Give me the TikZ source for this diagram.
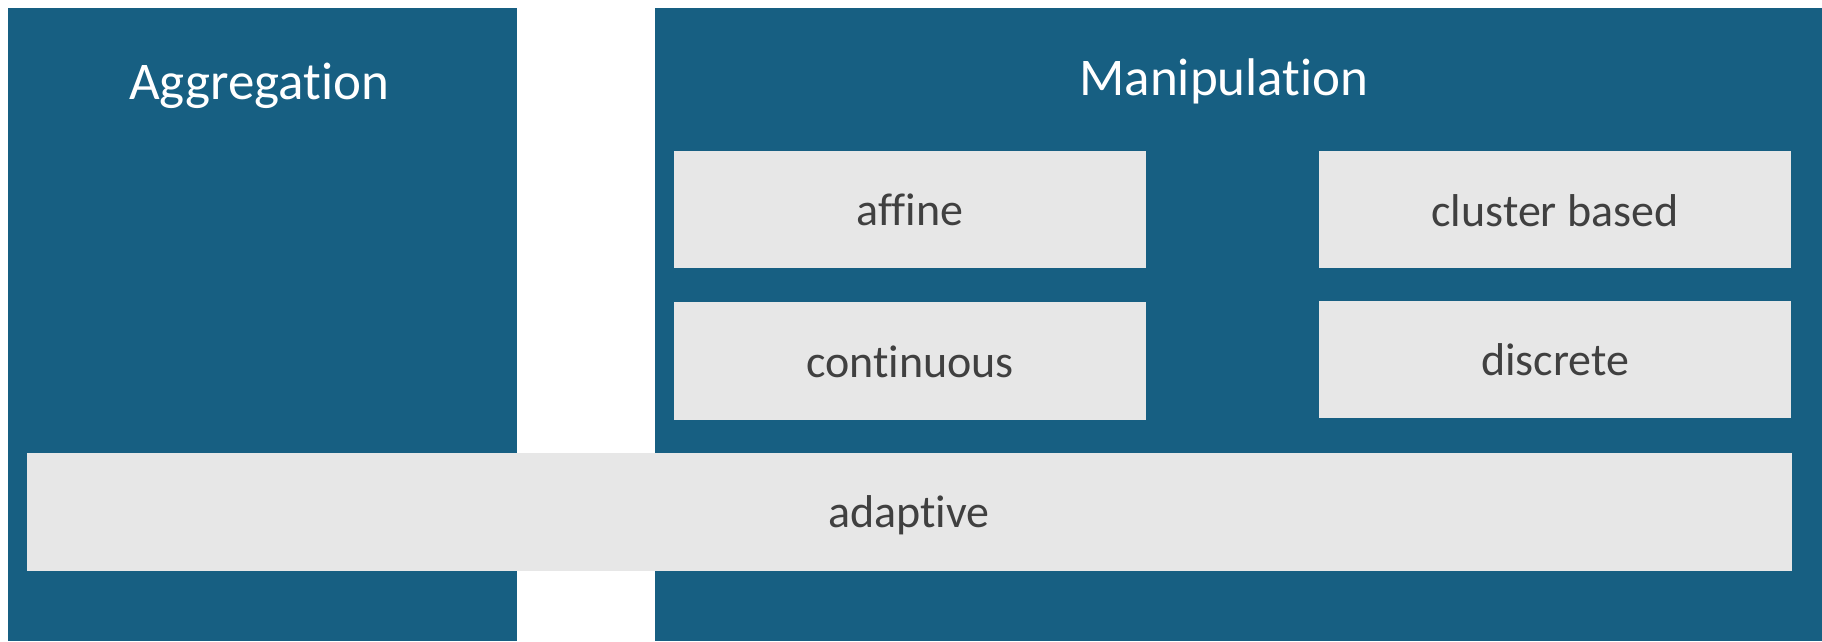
\documentclass[tikz,border=0pt]{standalone}
\usepackage{fontspec}
\setmainfont[Ligatures={NoCommon,NoRare,NoDiscretionary}]{Carlito}
\definecolor{panelblue}{HTML}{175F82}
\definecolor{itemgray}{HTML}{E7E7E7}
\definecolor{itemtext}{HTML}{404040}
\begin{document}
\begin{tikzpicture}[x=1pt,y=-1pt,
  panel/.style={fill=panelblue,draw=none},
  item/.style={fill=itemgray,draw=none},
  titletext/.style={anchor=base,inner sep=0pt,text=white,font=\fontsize{53}{64}\selectfont},
  itemlabel/.style={anchor=base,inner sep=0pt,text=itemtext,font=\fontsize{46}{55}\selectfont}]
\useasboundingbox (0,0) rectangle (1822,641);
\fill[white] (0,0) rectangle (1822,641);
% panels
\path[panel] (8,8) rectangle (517,641);
\path[panel] (655,8) rectangle (1822,641);
% items
\path[item] (674,151) rectangle (1146,268);
\path[item] (1319,151) rectangle (1791,268);
\path[item] (674,302) rectangle (1146,420);
\path[item] (1319,301) rectangle (1791,418);
\path[item] (27,453) rectangle (1792,571);
% labels
\node[titletext] (agg) at (259,99) {Aggregation};
\node[titletext] (man) at (1224,95) {Manipulation};
\node[itemlabel] (affine) at (910,225) {affine};
\node[itemlabel] (cluster) at (1555,226) {cluster based};
\node[itemlabel] (cont) at (910,377) {continuous};
\node[itemlabel] (disc) at (1555,375) {discrete};
\node[itemlabel] (adapt) at (909,527) {adaptive};
\end{tikzpicture}
\end{document}
